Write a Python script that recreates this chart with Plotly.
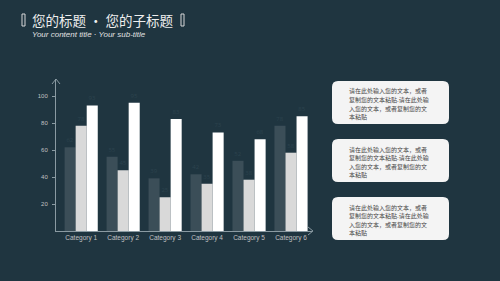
import plotly.graph_objects as go

categories = ["Category 1", "Category 2", "Category 3", "Category 4", "Category 5", "Category 6"]
series1 = [62, 55, 39, 42, 52, 78]
series2 = [78, 45, 25, 35, 38, 58]
series3 = [93, 95, 83, 73, 68, 85]
y_ticks = [20, 40, 60, 80, 100]
title_main = "您的标题 · 您的子标题"
subtitle_text = "Your content title · Your sub-title"
box_lines = ["请在此处输入您的文本，或者", "复制您的文本粘贴.请在此处输",
             "入您的文本，或者复制您的文", "本粘贴"]

BG = "#1f3540"
W, H = 500, 281

fig = go.Figure()
colors = ["#3b4e58", "#d9d9d9", "#ffffff"]
for vals, c, name in zip([series1, series2, series3], colors, ["S1", "S2", "S3"]):
    fig.add_trace(go.Bar(
        x=categories, y=vals, name=name, marker=dict(color=c, line=dict(width=0)),
        text=[str(v) for v in vals], textposition="outside",
        textfont=dict(size=6, color="#2c434e"), cliponaxis=False,
    ))

x0, x1 = 56, 312
y0, y1 = 79, 231
fig.update_layout(
    width=W, height=H, margin=dict(l=0, r=0, t=0, b=0),
    paper_bgcolor=BG, plot_bgcolor=BG, showlegend=False,
    barmode="group", bargap=0.21, bargroupgap=0,
    xaxis=dict(domain=[x0 / W, x1 / W], range=[-0.6, 5.5], showgrid=False, zeroline=False,
               showline=True, linecolor="#8a9aa2", linewidth=1,
               tickfont=dict(size=6.5, color="#c0c0c0", family="Liberation Sans"), ticks="", ticklen=0),
    yaxis=dict(domain=[1 - y1 / H, 1 - y0 / H], range=[0, (y1 - y0) / 1.35], showgrid=False,
               zeroline=False, showline=True, linecolor="#8a9aa2", linewidth=1,
               tickvals=y_ticks, tickfont=dict(size=6, color="#c0c0c0", family="Liberation Sans"),
               ticks="outside", ticklen=3, tickcolor="#8a9aa2", ticklabelstandoff=3),
)

def px(x):
    return x / W

def py(y):
    return 1 - y / H

fig.add_shape(type="path", xref="paper", yref="paper",
              path=f"M {px(52)} {py(84)} L {px(56)} {py(79)} L {px(60)} {py(84)}",
              line=dict(color="#8a9aa2", width=1))
fig.add_shape(type="path", xref="paper", yref="paper",
              path=f"M {px(308)} {py(227)} L {px(313)} {py(231)} L {px(308)} {py(235)}",
              line=dict(color="#8a9aa2", width=1))

for bx in (22, 181):
    fig.add_shape(type="rect", xref="paper", yref="paper",
                  x0=px(bx), x1=px(bx + 3), y0=py(26), y1=py(14),
                  line=dict(color="#d8d8d8", width=1), fillcolor=BG)
fig.add_annotation(text=title_main, x=px(30), y=py(20), xref="paper", yref="paper",
                   xanchor="left", yanchor="middle", showarrow=False,
                   font=dict(size=13.5, color="#eeeeee", family="Noto Sans CJK SC"))
fig.add_annotation(text="<i>" + subtitle_text + "</i>", x=px(30), y=py(34), xref="paper", yref="paper",
                   xanchor="left", yanchor="middle", showarrow=False,
                   font=dict(size=8, color="#e0e0e0", family="Liberation Sans"))

def rounded(xa, ya, xb, yb, r):
    return (f"M {px(xa + r)} {py(ya)} L {px(xb - r)} {py(ya)} "
            f"Q {px(xb)} {py(ya)} {px(xb)} {py(ya + r)} L {px(xb)} {py(yb - r)} "
            f"Q {px(xb)} {py(yb)} {px(xb - r)} {py(yb)} L {px(xa + r)} {py(yb)} "
            f"Q {px(xa)} {py(yb)} {px(xa)} {py(yb - r)} L {px(xa)} {py(ya + r)} "
            f"Q {px(xa)} {py(ya)} {px(xa + r)} {py(ya)} Z")

for top in [81, 139, 197]:
    fig.add_shape(type="path", xref="paper", yref="paper", path=rounded(332, top, 449, top + 43, 6),
                  fillcolor="#f4f4f4", line=dict(width=0))
    for i, line in enumerate(box_lines):
        fig.add_annotation(text=line, x=px(347), y=py(top + 10 + 8.5 * i), xref="paper", yref="paper",
                           xanchor="left", yanchor="middle", align="left", showarrow=False,
                           font=dict(size=6, color="#444444", family="Noto Sans CJK SC"))

fig.write_html("out.html")
